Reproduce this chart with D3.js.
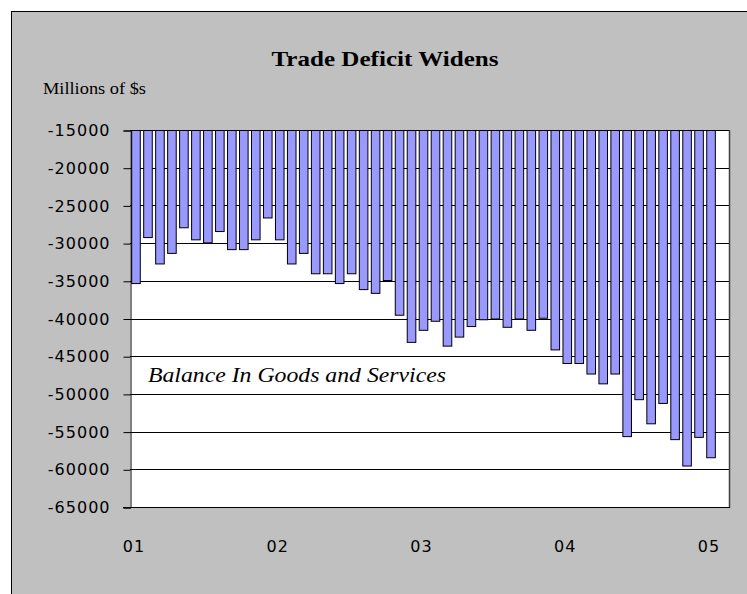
<!DOCTYPE html>
<html><head><meta charset="utf-8">
<script src="https://cdn.jsdelivr.net/npm/d3@7"></script>
<style>html,body{margin:0;padding:0;background:#fff;} svg{display:block}</style>
</head><body><svg id="c" width="747" height="594"></svg>
<script>
// Months (category slots) Jan 2001 .. Feb 2005
const months = [
  "2001-01","2001-02","2001-03","2001-04","2001-05","2001-06","2001-07","2001-08","2001-09","2001-10","2001-11","2001-12",
  "2002-01","2002-02","2002-03","2002-04","2002-05","2002-06","2002-07","2002-08","2002-09","2002-10","2002-11","2002-12",
  "2003-01","2003-02","2003-03","2003-04","2003-05","2003-06","2003-07","2003-08","2003-09","2003-10","2003-11","2003-12",
  "2004-01","2004-02","2004-03","2004-04","2004-05","2004-06","2004-07","2004-08","2004-09","2004-10","2004-11","2004-12",
  "2005-01","2005-02"
];
// Balance in goods and services, millions of $ (Jan 2001 .. Jan 2005)
const balance = [
  -35300,-29200,-32700,-31300,-27900,-29500,-29900,-28400,-30800,-30800,-29500,-26600,
  -29500,-32700,-31300,-34000,-34000,-35300,-34000,-36100,-36600,-34900,-39500,-43100,
  -41500,-40300,-43600,-42400,-41000,-40100,-40000,-41100,-40000,-41500,-39900,-44100,
  -45900,-45900,-47300,-48600,-47300,-55600,-50700,-53900,-51200,-56000,-59500,-55700,
  -58400
];
const yTicks = [-15000,-20000,-25000,-30000,-35000,-40000,-45000,-50000,-55000,-60000,-65000];
const xTickMonths = ["2001-01","2002-01","2003-01","2004-01","2005-01"];
const xTickLabels = ["01","02","03","04","05"];
const titleText = "Trade Deficit Widens";
const unitText = "Millions of $s";
const seriesLabel = "Balance In Goods and Services";

const svg = d3.select("#c");
const plot = {left:130, right:729, top:130, bottom:507};

// outer chart area
svg.append("rect").attr("x",11.5).attr("y",11.5).attr("width",760).attr("height",600)
  .attr("fill","#c0c0c0").attr("stroke","#000").attr("stroke-width",1);

const x = d3.scaleBand().domain(months).range([plot.left, plot.right])
  .paddingInner(0.2).paddingOuter(0.1);
const y = d3.scaleLinear().domain([-65000,-15000]).range([plot.bottom, plot.top]);

// plot area
svg.append("rect").attr("x",plot.left).attr("y",plot.top)
  .attr("width",plot.right-plot.left).attr("height",plot.bottom-plot.top)
  .attr("fill","#fff");

// gridlines
svg.append("g").selectAll("line").data(yTicks).join("line")
  .attr("x1",plot.left).attr("x2",plot.right)
  .attr("y1",d=>Math.round(y(d))+0.5).attr("y2",d=>Math.round(y(d))+0.5)
  .attr("stroke","#000").attr("stroke-width",1);

// bars
svg.append("g").selectAll("rect").data(balance).join("rect")
  .attr("x",(d,i)=>x(months[i])+0.5)
  .attr("y",y(-15000)+0.5)
  .attr("width",x.bandwidth()-1)
  .attr("height",d=>y(d)-y(-15000))
  .attr("fill","#9999ff").attr("stroke","#000").attr("stroke-width",1);

// plot border right
svg.append("line").attr("x1",plot.right+0.5).attr("x2",plot.right+0.5)
  .attr("y1",plot.top).attr("y2",plot.bottom+1).attr("stroke","#404040").attr("stroke-width",1.5);

// y axis
const yAxis = d3.axisLeft(y).tickValues(yTicks).tickSize(7).tickPadding(13).tickFormat(d=>String(d));
const gy = svg.append("g").attr("transform",`translate(${plot.left+0.5},0.5)`).call(yAxis);
gy.select(".domain").attr("stroke","#000");
gy.selectAll(".tick line").attr("stroke","#000");
gy.selectAll("text").attr("font-family","'DejaVu Sans', Verdana, sans-serif")
  .attr("font-size",16).attr("letter-spacing","1px").attr("fill","#000");

// x axis labels
const xAxis = d3.axisBottom(x).tickValues(xTickMonths).tickSize(0).tickPadding(34)
  .tickFormat((d)=>xTickLabels[xTickMonths.indexOf(d)]);
const gx = svg.append("g").attr("transform",`translate(-2,${plot.bottom})`).call(xAxis);
gx.select(".domain").remove();
gx.selectAll("text").attr("font-family","'DejaVu Sans', Verdana, sans-serif")
  .attr("font-size",16).attr("letter-spacing","1px").attr("fill","#000");

// bottom axis line
svg.append("line").attr("x1",plot.left-7).attr("x2",plot.right+1)
  .attr("y1",plot.bottom+0.5).attr("y2",plot.bottom+0.5).attr("stroke","#000");

// title
svg.append("text").attr("x",385).attr("y",66).attr("text-anchor","middle")
  .attr("font-family","'Liberation Serif','Times New Roman',serif").attr("font-weight","bold")
  .attr("font-size",21).attr("textLength",227).attr("lengthAdjust","spacingAndGlyphs")
  .text(titleText);
svg.append("text").attr("x",43).attr("y",94)
  .attr("font-family","'Liberation Serif','Times New Roman',serif")
  .attr("font-size",17).attr("textLength",103).attr("lengthAdjust","spacingAndGlyphs")
  .text(unitText);
svg.append("text").attr("x",148).attr("y",382)
  .attr("font-family","'Liberation Serif','Times New Roman',serif").attr("font-style","italic")
  .attr("font-size",22).attr("textLength",298).attr("lengthAdjust","spacingAndGlyphs")
  .text(seriesLabel);
</script></body></html>
